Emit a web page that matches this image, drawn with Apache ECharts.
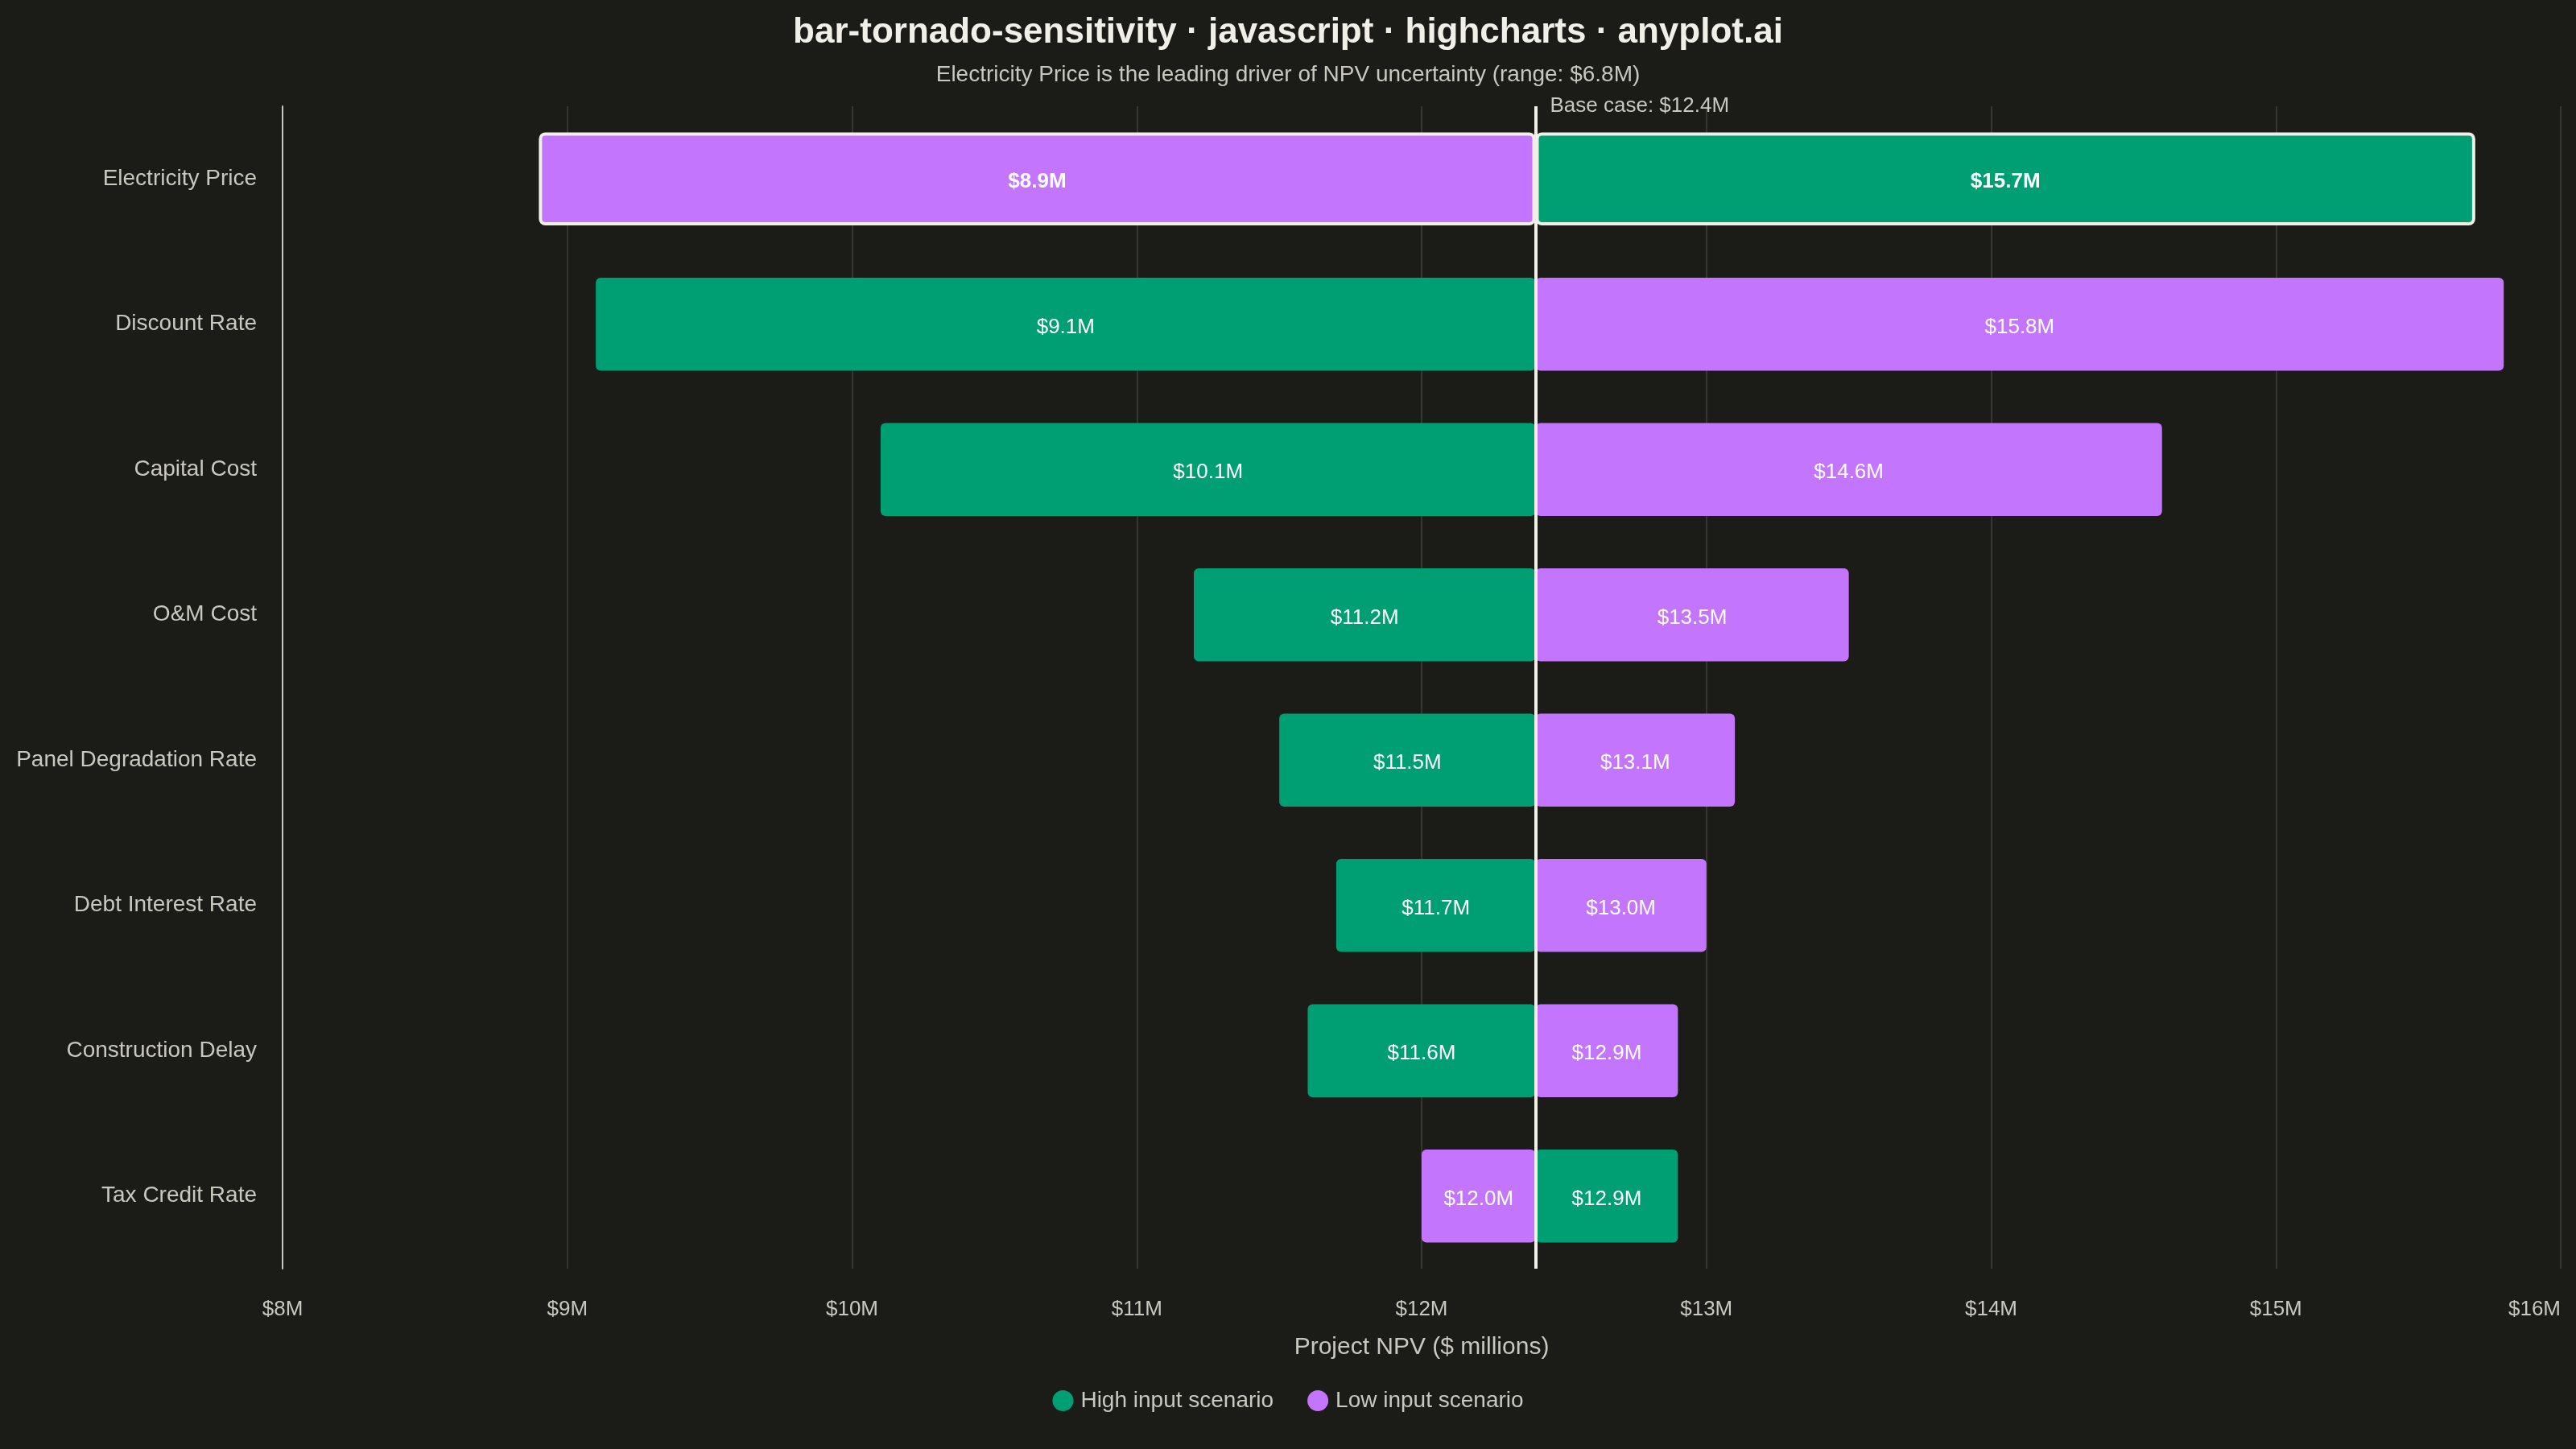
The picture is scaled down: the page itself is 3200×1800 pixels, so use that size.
<!DOCTYPE html>
<html>
<head>
<meta charset="utf-8">
<title>bar-tornado-sensitivity</title>
<script src="https://cdn.jsdelivr.net/npm/echarts@6/dist/echarts.min.js"></script>
<style>
  html, body { margin: 0; padding: 0; background: #1b1b17; }
  #chart { width: 3200px; height: 1800px; }
</style>
</head>
<body>
<div id="chart"></div>
<script>
// sensitivity inputs, top to bottom
const categories = ['Electricity Price', 'Discount Rate', 'Capital Cost', 'O&M Cost',
  'Panel Degradation Rate', 'Debt Interest Rate', 'Construction Delay', 'Tax Credit Rate']
// NPV ($M) when the input is set high / low
const highValues = [15.7, 9.1, 10.1, 11.2, 11.5, 11.7, 11.6, 12.9]
const lowValues = [8.9, 15.8, 14.6, 13.5, 13.1, 13.0, 12.9, 12.0]
const baseCase = 12.4
const axisMin = 8
const axisMax = 16
const axisStep = 1

const GREEN = '#009E73'
const PURPLE = '#C475FD'
const TEXT = '#c8c8c0'
const BRIGHT = '#f0efe8'

const fmt = (v) => '$' + v.toFixed(1) + 'M'

// bars grow from the base case: an invisible stack base up to min(value, base), then the visible span
const baseOf = (vals) => vals.map(v => Math.min(v, baseCase))
const spanOf = (vals) => vals.map((v, i) => {
  const item = { value: +Math.abs(v - baseCase).toFixed(3) }
  if (i === 0) {
    // leading driver gets an outline and bold labels
    item.itemStyle = { borderColor: BRIGHT, borderWidth: 4 }
    item.label = { fontWeight: 'bold' }
  }
  return item
})

const chart = echarts.init(document.getElementById('chart'))

const option = {
  backgroundColor: '#1b1b17',
  textStyle: { fontFamily: '"Liberation Sans", Arial, sans-serif' },
  title: {
    text: 'bar-tornado-sensitivity · javascript · highcharts · anyplot.ai',
    subtext: 'Electricity Price is the leading driver of NPV uncertainty (range: $'
      + (highValues[0] - lowValues[0]).toFixed(1) + 'M)',
    left: 'center',
    top: 14,
    itemGap: 16,
    textStyle: { color: BRIGHT, fontSize: 44, fontWeight: 'bold' },
    subtextStyle: { color: TEXT, fontSize: 28 }
  },
  legend: {
    data: ['High input scenario', 'Low input scenario'],
    top: 1721,
    left: 'center',
    icon: 'circle',
    itemWidth: 26,
    itemHeight: 26,
    itemGap: 42,
    textStyle: { color: TEXT, fontSize: 28, padding: [0, 0, 0, 4] }
  },
  grid: { left: 351, right: 19, top: 132, bottom: 224, outerBoundsMode: 'none' },
  xAxis: {
    type: 'value',
    min: axisMin,
    max: axisMax,
    interval: axisStep,
    name: 'Project NPV ($ millions)',
    nameLocation: 'middle',
    nameGap: 83,
    nameTextStyle: { color: TEXT, fontSize: 30 },
    axisLine: { show: false },
    axisTick: { show: false },
    axisLabel: {
      color: TEXT,
      fontSize: 26,
      margin: 38,
      alignMaxLabel: 'right',
      formatter: (v) => '$' + v + 'M'
    },
    splitLine: { show: true, lineStyle: { color: '#36362f', width: 2 } }
  },
  yAxis: {
    type: 'category',
    data: categories,
    inverse: true,
    axisLine: { show: true, lineStyle: { color: TEXT, width: 2 } },
    axisTick: { show: false },
    axisLabel: { color: TEXT, fontSize: 28, margin: 32, padding: [8, 0, 0, 0] },
    splitLine: { show: false }
  },
  series: [
    {
      name: 'highBase',
      type: 'bar',
      stack: 'high',
      silent: true,
      barWidth: '64%',
      itemStyle: { color: 'transparent' },
      data: baseOf(highValues)
    },
    {
      name: 'High input scenario',
      type: 'bar',
      stack: 'high',
      barWidth: '64%',
      itemStyle: { color: GREEN, borderRadius: 6 },
      label: {
        show: true,
        position: 'inside',
        offset: [0, 4],
        color: '#ffffff',
        fontSize: 26,
        formatter: (p) => fmt(highValues[p.dataIndex])
      },
      data: spanOf(highValues)
    },
    {
      name: 'lowBase',
      type: 'bar',
      stack: 'low',
      silent: true,
      barWidth: '64%',
      barGap: '-100%',
      itemStyle: { color: 'transparent' },
      data: baseOf(lowValues)
    },
    {
      name: 'Low input scenario',
      type: 'bar',
      stack: 'low',
      barWidth: '64%',
      barGap: '-100%',
      itemStyle: { color: PURPLE, borderRadius: 6 },
      label: {
        show: true,
        position: 'inside',
        offset: [0, 4],
        color: '#ffffff',
        fontSize: 26,
        formatter: (p) => fmt(lowValues[p.dataIndex])
      },
      data: spanOf(lowValues),
      markLine: {
        silent: true,
        symbol: 'none',
        lineStyle: { color: BRIGHT, width: 4, type: 'solid' },
        label: {
          show: true,
          position: 'start',
          align: 'left',
          verticalAlign: 'middle',
          distance: 0,
          padding: [0, 0, 0, 18],
          color: TEXT,
          fontSize: 26,
          formatter: 'Base case: ' + fmt(baseCase)
        },
        data: [{ xAxis: baseCase }]
      }
    }
  ]
}

chart.setOption(option)
</script>
</body>
</html>
